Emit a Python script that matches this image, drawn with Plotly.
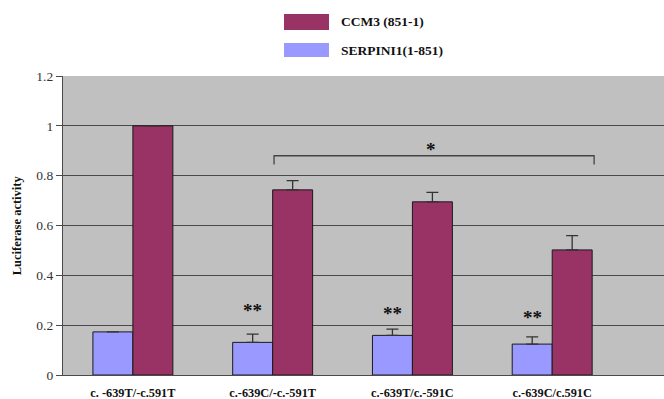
import plotly.graph_objects as go

# Genotype groups along the x axis
genotypes = ["c. -639T/-c.591T", "c.-639C/-c.-591T", "c.-639T/c.-591C", "c.-639C/c.591C"]

# Relative luciferase activity per construct (None = no error bar)
serpini1_vals = [0.173, 0.131, 0.159, 0.124]
serpini1_err = [None, 0.033, 0.025, 0.029]
ccm3_vals = [1.0, 0.743, 0.695, 0.502]
ccm3_err = [None, 0.037, 0.038, 0.057]

# Significance marks
double_star_y = [0.26, 0.248, 0.232]

BLUE = "#9999FF"
PLUM = "#993366"
GRID = "#4a4a4a"
SERIF = "Times New Roman, Liberation Serif, serif"

x_idx = list(range(len(genotypes)))

fig = go.Figure()
fig.add_trace(go.Bar(
    x=x_idx, y=serpini1_vals, name="SERPINI1(1-851)",
    marker=dict(color=BLUE, line=dict(color="#1a1a1a", width=1)),
    error_y=dict(type="data", symmetric=False, array=serpini1_err,
                 arrayminus=[0] * 4, color="#333333", thickness=1.3, width=6),
))
fig.add_trace(go.Bar(
    x=x_idx, y=ccm3_vals, name="CCM3 (851-1)",
    marker=dict(color=PLUM, line=dict(color="#1a1a1a", width=1)),
    error_y=dict(type="data", symmetric=False, array=ccm3_err,
                 arrayminus=[0] * 4, color="#333333", thickness=1.3, width=6),
))

annotations = []
# "**" above the SERPINI1 bars of groups 2-4
bar_w = 0.286
for i, yy in zip([1, 2, 3], double_star_y):
    annotations.append(dict(x=i - bar_w / 2, y=yy, xref="x", yref="y", text="<b>**</b>",
                            showarrow=False, font=dict(family=SERIF, size=19, color="#111")))
# Bracket over CCM3 bars of groups 2-4 with a single star
annotations.append(dict(x=2.13, y=0.905, xref="x", yref="y", text="<b>*</b>", showarrow=False,
                        font=dict(family=SERIF, size=19, color="#111")))

# Legend drawn as large swatches above the plot
legend_items = [("CCM3 (851-1)", PLUM, 14, 30), ("SERPINI1(1-851)", BLUE, 43, 57)]
shapes = []
for label, col, y0, y1 in legend_items:
    shapes.append(dict(type="rect", xref="paper", yref="paper",
                       x0=(284 - 63) / 601, x1=(329 - 63) / 601,
                       y0=(375 - y1) / 299, y1=(375 - y0) / 299,
                       fillcolor=col, line=dict(width=0)))
    annotations.append(dict(x=(339 - 63) / 601, y=(375 - (y0 + y1) / 2) / 299,
                            xref="paper", yref="paper", text=f"<b>{label}</b>", showarrow=False,
                            xanchor="left", yanchor="middle",
                            font=dict(family=SERIF, size=13.5, color="#111")))

shapes.append(dict(type="path", xref="x", yref="y",
                   path="M 1.01 0.845 L 1.01 0.88 L 3.3 0.88 L 3.3 0.845",
                   line=dict(color="#444444", width=1.3)))

annotations.append(dict(x=-0.077, y=0.5, xref="paper", yref="paper", text="<b>Luciferase activity</b>",
                        textangle=-90, showarrow=False, xanchor="center", yanchor="middle",
                        font=dict(family=SERIF, size=12.5, color="#111")))

fig.update_layout(
    width=664, height=399, autosize=False,
    margin=dict(l=63, r=0, t=76, b=24),
    paper_bgcolor="white", plot_bgcolor="#C0C0C0",
    barmode="group", bargap=0.428, bargroupgap=0,
    showlegend=False,
    shapes=shapes, annotations=annotations,
)
fig.update_xaxes(
    range=[-0.5, 3.8], tickmode="array", tickvals=x_idx,
    ticktext=[f"<b>{g}</b>" for g in genotypes],
    tickfont=dict(family=SERIF, size=12.3, color="#111"),
    showgrid=False, showline=True, linecolor=GRID, linewidth=1.3,
    ticks="", ticklabelstandoff=6, zeroline=False,
)
fig.update_yaxes(
    range=[0, 1.2], dtick=0.2, tickformat="~g",
    showgrid=True, gridcolor=GRID, gridwidth=1.3,
    showline=True, linecolor=GRID, linewidth=1.3,
    ticks="outside", ticklen=6, tickcolor=GRID,
    tickfont=dict(family=SERIF, size=13.5, color="#333"),
    zeroline=False,
)

fig.write_html("out.html")
